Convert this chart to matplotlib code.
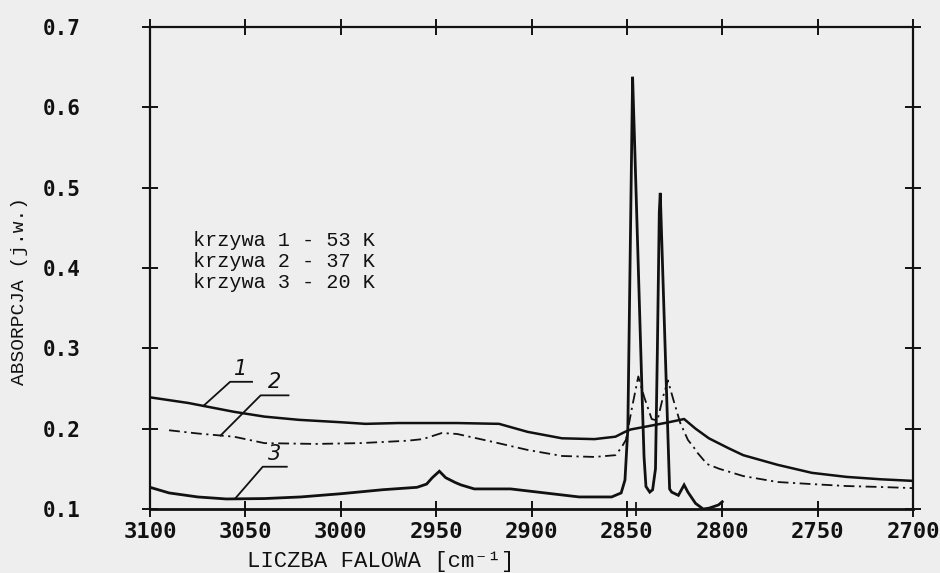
import numpy as np
import matplotlib
matplotlib.use("Agg")
import matplotlib.pyplot as plt
from matplotlib.ticker import FixedLocator

# ---------------- data ----------------
x_ticks = [3100, 3050, 3000, 2950, 2900, 2850, 2800, 2750, 2700]
x_tick_labels = ["3100", "3050", "3000", "2950", "2900", "2850", "2800", "2750", "2700"]
y_ticks = [0.1, 0.2, 0.3, 0.4, 0.5, 0.6, 0.7]
y_tick_labels = ["0.1", "0.2", "0.3", "0.4", "0.5", "0.6", "0.7"]

# curve 1 (53 K) - solid
c1_x = [3100, 3080, 3056, 3040, 3022, 3000, 2987, 2970, 2957, 2939, 2917, 2902,
        2884, 2867, 2856, 2851, 2848, 2839, 2828, 2820, 2814, 2807, 2797, 2789,
        2771, 2753, 2735, 2717, 2700]
c1_y = [0.239, 0.232, 0.221, 0.215, 0.211, 0.208, 0.206, 0.207, 0.207, 0.207,
        0.206, 0.196, 0.188, 0.187, 0.190, 0.196, 0.199, 0.203, 0.208, 0.212,
        0.200, 0.188, 0.176, 0.167, 0.155, 0.145, 0.140, 0.137, 0.135]

# curve 2 (37 K) - dash-dot
c2_x = [3090, 3075, 3056, 3040, 3013, 2990, 2978, 2965, 2957, 2947, 2939, 2920,
        2902, 2884, 2867, 2856, 2853, 2850.5, 2847, 2844, 2841, 2837, 2834, 2831,
        2828.5, 2825.5, 2822, 2818, 2815, 2813, 2808, 2801.5, 2789, 2771, 2753,
        2735, 2717, 2700]
c2_y = [0.198, 0.194, 0.190, 0.182, 0.181, 0.182, 0.1834, 0.185, 0.187, 0.1946,
        0.1934, 0.1834, 0.1735, 0.166, 0.1648, 0.167, 0.176, 0.186, 0.230, 0.265,
        0.240, 0.212, 0.210, 0.240, 0.260, 0.235, 0.207, 0.186, 0.177, 0.170,
        0.156, 0.150, 0.141, 0.1336, 0.131, 0.1286, 0.1274, 0.126]

# curve 3 (20 K) - solid with sharp peaks
c3_x = [3100, 3090, 3075, 3060, 3040, 3021, 3000, 2978, 2960, 2955, 2952, 2948.3,
        2945, 2940, 2937, 2930, 2911, 2893, 2875, 2858, 2853, 2851, 2849.5, 2847,
        2846, 2844, 2842, 2841, 2840, 2838, 2836.5, 2835, 2834, 2833, 2832.5,
        2830, 2827.6, 2826.5, 2823, 2820, 2818, 2814, 2810, 2807, 2802, 2800]
c3_y = [0.127, 0.120, 0.115, 0.1125, 0.113, 0.115, 0.119, 0.124, 0.127, 0.131,
        0.139, 0.147, 0.139, 0.133, 0.130, 0.125, 0.125, 0.120, 0.115, 0.115,
        0.120, 0.136, 0.200, 0.638, 0.560, 0.400, 0.240, 0.165, 0.128, 0.121,
        0.124, 0.150, 0.300, 0.470, 0.4935, 0.305, 0.125, 0.121, 0.117, 0.130,
        0.121, 0.107, 0.100, 0.101, 0.105, 0.109]

legend_lines = ["krzywa 1 - 53 K", "krzywa 2 - 37 K", "krzywa 3 - 20 K"]
curve_names = ["1", "2", "3"]

x_label = "LICZBA FALOWA [cm⁻¹]"
y_label = "ABSORPCJA (j.w.)"

# ---------------- figure ----------------
BG = "#eeeeee"
INK = "#111111"
fig = plt.figure(figsize=(9.4, 5.73), dpi=100, facecolor=BG)
ax = fig.add_axes([150 / 940, 1 - 509 / 573, (913 - 150) / 940, (509 - 27) / 573])
ax.set_facecolor(BG)

ax.plot(c1_x, c1_y, color=INK, lw=1.8, solid_joinstyle="round")
ax.plot(c2_x, c2_y, color=INK, lw=1.3, linestyle=(0, (6, 2.5, 1.2, 2.5)))
ax.plot(c3_x, c3_y, color=INK, lw=2.0, solid_joinstyle="miter")

ax.set_xlim(3100, 2700)
ax.set_ylim(0.1, 0.7)

mono = ["DejaVu Sans Mono"]
ax.xaxis.set_major_locator(FixedLocator(x_ticks))
ax.set_xticklabels(x_tick_labels, fontsize=16, family=mono, fontweight="bold")
ax.yaxis.set_major_locator(FixedLocator(y_ticks))
ax.set_yticklabels(y_tick_labels, fontsize=15, family=mono, fontweight="bold")
ax.xaxis.set_minor_locator(FixedLocator([2845]))

ax.tick_params(axis="both", which="major", direction="inout", length=12, width=1.4,
               top=True, right=True, colors=INK)
ax.tick_params(axis="x", which="major", pad=3)
ax.tick_params(axis="y", which="major", pad=44)
ax.tick_params(axis="x", which="minor", direction="inout", length=10, width=1.2,
               top=False, bottom=True)
for s in ax.spines.values():
    s.set_linewidth(1.6)
    s.set_color(INK)
ax.spines["bottom"].set_linewidth(2.0)

# legend text
typew = ["Liberation Mono", "DejaVu Sans Mono"]
for i, t in enumerate(legend_lines):
    ax.text(0.056, 0.557 - i * 0.0435, t, transform=ax.transAxes, fontsize=14.5,
            family=typew, color=INK, va="center", ha="left")

# curve labels with leader lines
curves = [(c1_x, c1_y), (c2_x, c2_y), (c3_x, c3_y)]
touch_x = [3072, 3063, 3055.5]
corner_dx = [-14.0, -21.0, -14.6]
corner_dy = [0.030, 0.050, 0.040]
under_len = [11.5, 14.6, 12.6]
for name, (cx, cy), tx, ddx, ddy, ul in zip(curve_names, curves, touch_x,
                                             corner_dx, corner_dy, under_len):
    ty = np.interp(tx, cx[::-1], cy[::-1])
    kx, ky = tx + ddx, ty + ddy
    ax.plot([tx, kx, kx - ul], [ty, ky, ky], color=INK, lw=1.3)
    ax.text(kx - ul / 2, ky + 0.004, name, fontsize=15, style="italic",
            family=["DejaVu Sans"], color=INK, ha="center", va="bottom")

fig.text(247 / 940, 1 - 562 / 573, x_label, fontsize=16, family=typew,
         color=INK, ha="left", va="center")
fig.text(20 / 940, 1 - 291 / 573, y_label, fontsize=14, family=typew,
         color=INK, ha="center", va="center", rotation=90)

fig.savefig("out.png", dpi=100, facecolor=BG)
